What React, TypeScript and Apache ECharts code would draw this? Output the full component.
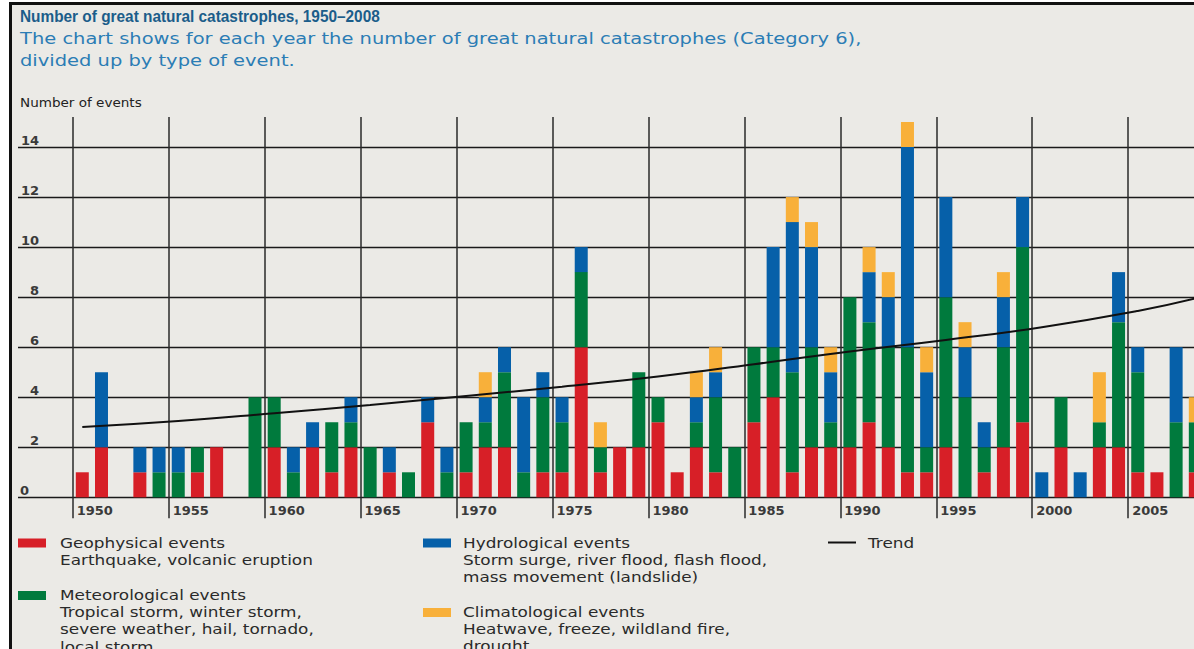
import React, { useEffect, useRef } from "react";
import * as echarts from "echarts";

const years = [
  "1950", "1951", "1952", "1953", "1954", "1955", "1956", "1957", "1958", "1959",
  "1960", "1961", "1962", "1963", "1964", "1965", "1966", "1967", "1968", "1969",
  "1970", "1971", "1972", "1973", "1974", "1975", "1976", "1977", "1978", "1979",
  "1980", "1981", "1982", "1983", "1984", "1985", "1986", "1987", "1988", "1989",
  "1990", "1991", "1992", "1993", "1994", "1995", "1996", "1997", "1998", "1999",
  "2000", "2001", "2002", "2003", "2004", "2005", "2006", "2007", "2008",
];

// Geophysical (red)
const geophysical = [
  1, 2, 0, 1, 0, 0, 1, 2, 0, 0,
  2, 0, 2, 1, 2, 0, 1, 0, 3, 0,
  1, 2, 2, 0, 1, 1, 6, 1, 2, 2,
  3, 1, 2, 1, 0, 3, 4, 1, 2, 2,
  2, 3, 2, 1, 1, 2, 0, 1, 2, 3,
  0, 2, 0, 2, 2, 1, 1, 0, 1,
];
// Meteorological (green)
const meteorological = [
  0, 0, 0, 0, 1, 1, 1, 0, 0, 4,
  2, 1, 0, 2, 1, 2, 0, 1, 0, 1,
  2, 1, 3, 1, 3, 2, 3, 1, 0, 3,
  1, 0, 1, 3, 2, 3, 2, 4, 4, 1,
  6, 4, 4, 5, 1, 6, 4, 1, 4, 7,
  0, 2, 0, 1, 5, 4, 0, 3, 2,
];
// Hydrological (blue)
const hydrological = [
  0, 3, 0, 1, 1, 1, 0, 0, 0, 0,
  0, 1, 1, 0, 1, 0, 1, 0, 1, 1,
  0, 1, 1, 3, 1, 1, 1, 0, 0, 0,
  0, 0, 1, 1, 0, 0, 4, 6, 4, 2,
  0, 2, 2, 8, 3, 4, 2, 1, 2, 2,
  1, 0, 1, 0, 2, 1, 0, 3, 0,
];
// Climatological (orange)
const climatological = [
  0, 0, 0, 0, 0, 0, 0, 0, 0, 0,
  0, 0, 0, 0, 0, 0, 0, 0, 0, 0,
  0, 1, 0, 0, 0, 0, 0, 1, 0, 0,
  0, 0, 1, 1, 0, 0, 0, 1, 1, 1,
  0, 1, 1, 1, 1, 0, 1, 0, 1, 0,
  0, 0, 0, 2, 0, 0, 0, 0, 1,
];

const trendYears = ["1950", "1955", "1960", "1965", "1970", "1975", "1980", "1985", "1990", "1995", "2000", "2005", "2008"];
const trendValues = [2.81, 3.05, 3.36, 3.69, 4.05, 4.42, 4.83, 5.32, 5.83, 6.29, 6.8, 7.45, 7.95];

const seriesNames = ["Geophysical events", "Meteorological events", "Hydrological events", "Climatological events"];
const seriesColors = ["#d71f27", "#007a3d", "#0660a9", "#f8b03a"];

const titleText = "Number of great natural catastrophes, 1950–2008";
const subtitleLines = [
  "The chart shows for each year the number of great natural catastrophes (Category 6),",
  "divided up by type of event.",
];
const yAxisTitle = "Number of events";

const legendBlocks = [
  { color: seriesColors[0], lines: ["Geophysical events", "Earthquake, volcanic eruption"] },
  { color: seriesColors[1], lines: ["Meteorological events", "Tropical storm, winter storm,", "severe weather, hail, tornado,", "local storm"] },
  { color: seriesColors[2], lines: ["Hydrological events", "Storm surge, river flood, flash flood,", "mass movement (landslide)"] },
  { color: seriesColors[3], lines: ["Climatological events", "Heatwave, freeze, wildland fire,", "drought"] },
];

const FONT = '"DejaVu Sans", sans-serif';
const TITLE_FONT = '"Liberation Sans", Arial, sans-serif';

function measure(text: string, size: number, weight: string, family: string = FONT) {
  const ctx = document.createElement("canvas").getContext("2d")!;
  ctx.font = `${weight} ${size}px ${family}`;
  return ctx.measureText(text).width;
}

function txt(text: string, x: number, y: number, size: number, weight: string, fill: string, scaleX: number, family: string = FONT) {
  return {
    type: "text",
    x,
    y,
    scaleX,
    silent: true,
    style: {
      text,
      x: 0,
      y: 0,
      fill,
      fontSize: size,
      fontWeight: weight,
      fontFamily: family,
      align: "left",
      verticalAlign: "middle",
    },
  };
}

const CHART_W = 1224;

export default function App() {
  const ref = useRef<HTMLDivElement>(null);

  useEffect(() => {
    if (!ref.current) return;
    const chart = echarts.init(ref.current, undefined, { renderer: "svg" });

    const Y0 = 497.3;
    const TOP = 117;
    const H = 649;
    const slot = 19.19;
    const barLeft = 72.7;

    const titleScale = 360 / measure(titleText, 17, "bold", TITLE_FONT);
    const sub1Scale = 842 / measure(subtitleLines[0], 16, "normal");
    const legendScale = 253 / measure("Earthquake, volcanic eruption", 14, "normal");
    const yTitleScale = 122 / measure(yAxisTitle, 13, "normal");

    const graphics: any[] = [];
    graphics.push(txt(titleText, 20, 16, 17, "bold", "#1b5d8a", titleScale, TITLE_FONT));
    graphics.push(txt(subtitleLines[0], 20, 38, 16, "normal", "#2b7db5", sub1Scale));
    graphics.push(txt(subtitleLines[1], 20, 60, 16, "normal", "#2b7db5", sub1Scale));
    graphics.push(txt(yAxisTitle, 20, 103, 13, "normal", "#222", yTitleScale));

    const legendPos = [
      { x: 18, y: 543 },
      { x: 18, y: 595.5 },
      { x: 423, y: 543 },
      { x: 423, y: 612.5 },
    ];
    legendBlocks.forEach((b, i) => {
      const p = legendPos[i];
      graphics.push({
        type: "rect",
        silent: true,
        shape: { x: p.x, y: p.y - 4.5, width: 28, height: 9 },
        style: { fill: b.color },
      });
      b.lines.forEach((line, j) => {
        graphics.push(txt(line, p.x + (i < 2 ? 42 : 40), p.y + j * 17.2, 14, "normal", "#2a2a2a", legendScale));
      });
    });
    graphics.push({
      type: "line",
      silent: true,
      shape: { x1: 828, y1: 542.5, x2: 856, y2: 542.5 },
      style: { stroke: "#111", lineWidth: 2 },
    });
    graphics.push(txt("Trend", 868, 543, 14, "normal", "#2a2a2a", legendScale));

    const stackSeries = [geophysical, meteorological, hydrological, climatological].map((d, i) => ({
      name: seriesNames[i],
      type: "bar",
      stack: "events",
      xAxisIndex: 1,
      yAxisIndex: 1,
      barWidth: 13,
      itemStyle: { color: seriesColors[i] },
      data: d,
      z: 3,
    }));

    chart.setOption({
      animation: false,
      backgroundColor: "transparent",
      grid: [
        { left: 18, right: CHART_W - 1194, top: TOP, bottom: H - Y0 },
        { left: barLeft, width: slot * years.length, top: TOP, bottom: H - Y0 },
      ],
      xAxis: [
        { type: "value", gridIndex: 0, show: false, min: 0, max: 1 },
        {
          type: "category",
          gridIndex: 1,
          data: years,
          boundaryGap: true,
          axisLine: { show: false },
          axisTick: { show: false },
          axisLabel: { show: false },
          splitLine: { show: false },
        },
        {
          type: "value",
          gridIndex: 1,
          position: "bottom",
          min: 1950,
          max: 1950 + years.length,
          interval: 5,
          axisLine: { show: false },
          axisTick: { show: true, length: 21, inside: false, lineStyle: { color: "#2a2a2a", width: 1.5 } },
          splitLine: { show: true, showMaxLine: false, lineStyle: { color: "#2a2a2a", width: 1.5 } },
          axisLabel: {
            showMaxLabel: false,
            align: "left",
            margin: 7,
            padding: [0, 0, 0, 4],
            fontSize: 13,
            fontWeight: "bold",
            fontFamily: FONT,
            color: "#3a3a3a",
            formatter: (v: number) => (v % 5 === 0 && v < 2009 ? String(v) : ""),
          },
        },
      ],
      yAxis: [
        {
          type: "value",
          gridIndex: 0,
          min: 0,
          max: 15.2,
          interval: 2,
          axisLine: { show: false },
          axisTick: { show: false },
          splitLine: { show: true, showMaxLine: false, lineStyle: { color: "#1a1a1a", width: 1.3 } },
          axisLabel: {
            inside: true,
            showMaxLabel: false,
            align: "right",
            verticalAlign: "bottom",
            margin: 21,
            fontSize: 13,
            fontWeight: "bold",
            fontFamily: FONT,
            color: "#3a3a3a",
            formatter: (v: number) => (v === 0 ? "{z|0}" : v % 2 === 0 && v <= 14 ? String(v) : ""),
            rich: { z: { fontSize: 13, fontWeight: "bold", fontFamily: FONT, color: "#3a3a3a", padding: [0, 10, 0, 0] } },
          },
        },
        { type: "value", gridIndex: 1, min: 0, max: 15.2, show: false, splitLine: { show: false } },
      ],
      series: [
        ...stackSeries,
        {
          name: "Trend",
          type: "line",
          xAxisIndex: 1,
          yAxisIndex: 1,
          data: trendYears.map((y, i) => [y, trendValues[i]]),
          smooth: true,
          symbol: "none",
          lineStyle: { color: "#111", width: 2 },
          z: 5,
        },
      ],
      graphic: graphics,
    });

    return () => chart.dispose();
  }, []);

  return (
    <div style={{ position: "fixed", left: 0, top: 0, width: 1194, height: 649, background: "#fff", overflow: "hidden" }}>
      <div
        style={{
          position: "absolute",
          left: 9,
          top: 2,
          width: 1300,
          height: 800,
          background: "#ebeae6",
          borderLeft: "3px solid #111",
          borderTop: "3px solid #111",
        }}
      />
      <div ref={ref} style={{ position: "absolute", left: 0, top: 0, width: CHART_W, height: 649 }} />
    </div>
  );
}
